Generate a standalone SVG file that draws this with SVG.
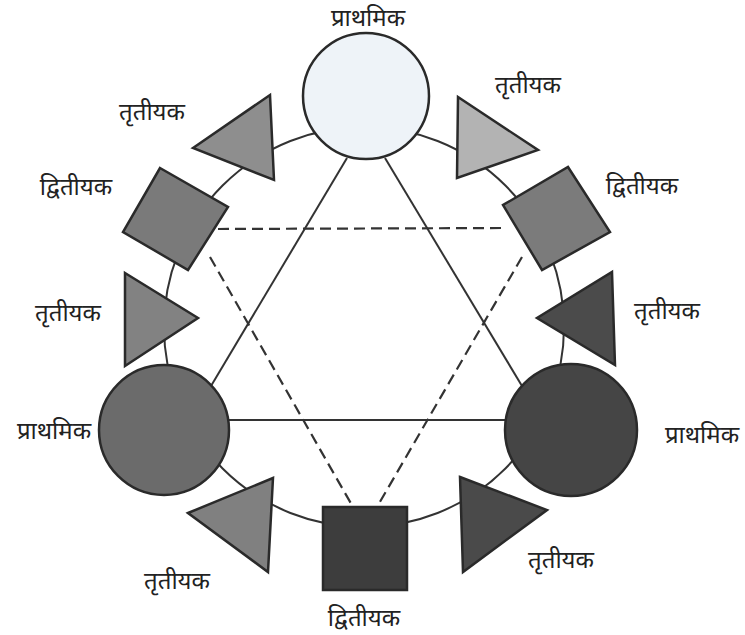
<svg xmlns="http://www.w3.org/2000/svg" width="745" height="635" viewBox="0 0 745 635">
<style>
.shape{stroke:#2a2a2a;stroke-width:2.5;stroke-linejoin:miter}
.conn{stroke:#333;stroke-width:2;fill:none}
.dash{stroke:#333;stroke-width:2.2;fill:none;stroke-dasharray:11 6}
.lbl{font-family:"Noto Sans Devanagari","Lohit Devanagari","Noto Sans","DejaVu Sans",sans-serif;font-size:24px;fill:#222;text-anchor:middle}
</style>
<rect width="745" height="635" fill="#ffffff"/>
<g id="connectors">
<circle class="conn" cx="364" cy="327" r="200"/>
<line class="conn" x1="347" y1="158" x2="211" y2="386"/>
<line class="conn" x1="385" y1="158" x2="522" y2="386"/>
<line class="conn" x1="226" y1="420" x2="507" y2="420"/>
<line class="dash" x1="218" y1="229" x2="505" y2="228"/>
<line class="dash" x1="210" y1="257" x2="353" y2="507"/>
<line class="dash" x1="522" y1="257" x2="377" y2="507"/>
</g>
<g id="primary-top">
<circle class="shape" cx="366" cy="96" r="63" fill="#eef3f8"/>
<text class="lbl" x="368" y="26">प्राथमिक</text>
</g>
<g id="primary-left">
<circle class="shape" cx="164" cy="430" r="65" fill="#6b6b6b"/>
<text class="lbl" x="54" y="439">प्राथमिक</text>
</g>
<g id="primary-right">
<circle class="shape" cx="571" cy="430" r="66" fill="#454545"/>
<text class="lbl" x="702" y="443">प्राथमिक</text>
</g>
<g id="secondary-topleft">
<polygon class="shape" points="160,168 228,207 188,270 123,232" fill="#7a7a7a"/>
<text class="lbl" x="76" y="195">द्वितीयक</text>
</g>
<g id="secondary-topright">
<polygon class="shape" points="568,167 610,232 542,270 503,205" fill="#7b7b7b"/>
<text class="lbl" x="642" y="194">द्वितीयक</text>
</g>
<g id="secondary-bottom">
<rect class="shape" x="323" y="507" width="84" height="83" fill="#3d3d3d"/>
<text class="lbl" x="364" y="626">द्वितीयक</text>
</g>
<g id="tertiary-1">
<polygon class="shape" points="193,148 270,95 274,180" fill="#8e8e8e"/>
<text class="lbl" x="152" y="120">तृतीयक</text>
</g>
<g id="tertiary-2">
<polygon class="shape" points="458,97 538,150 457,178" fill="#b3b3b3"/>
<text class="lbl" x="528" y="93">तृतीयक</text>
</g>
<g id="tertiary-3">
<polygon class="shape" points="125,273 198,318 125,366" fill="#828282"/>
<text class="lbl" x="68" y="321">तृतीयक</text>
</g>
<g id="tertiary-4">
<polygon class="shape" points="612,272 615,365 537,318" fill="#4b4b4b"/>
<text class="lbl" x="667" y="319">तृतीयक</text>
</g>
<g id="tertiary-5">
<polygon class="shape" points="188,513 273,478 268,572" fill="#808080"/>
<text class="lbl" x="177" y="589">तृतीयक</text>
</g>
<g id="tertiary-6">
<polygon class="shape" points="460,477 547,510 463,572" fill="#4a4a4a"/>
<text class="lbl" x="561" y="568">तृतीयक</text>
</g>
</svg>
